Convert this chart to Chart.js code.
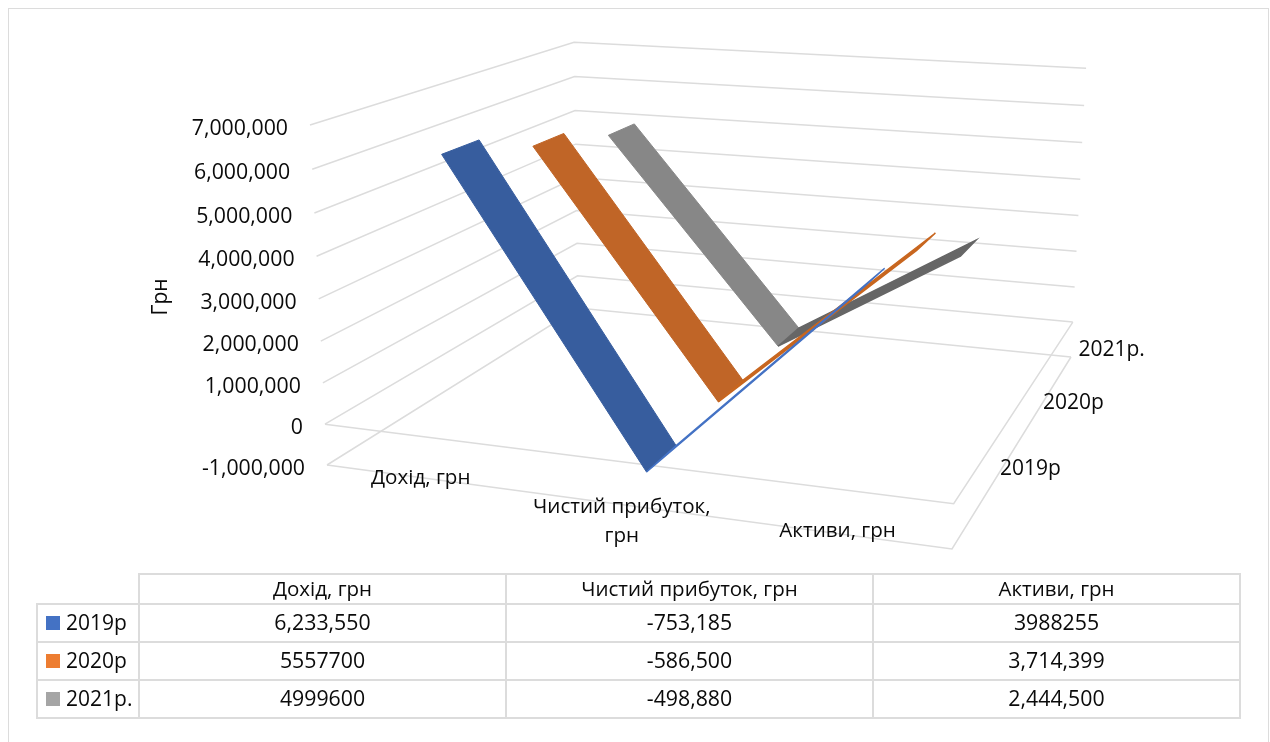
<!DOCTYPE html>
<html>
<head>
<meta charset="utf-8">
<title>Дохід, чистий прибуток, активи</title>
<script src="https://cdn.jsdelivr.net/npm/chart.js@4"></script>
<style>
html,body{margin:0;padding:0;background:#fff;overflow:hidden}
#frame{position:absolute;left:8px;top:8px;width:1259px;height:760px;border:1.5px solid #dcdcdc}
#plot{position:absolute;left:0;top:0}
#dataTable{position:absolute;left:36px;top:573px;width:1205px;height:146px;border-collapse:collapse;table-layout:fixed;
font-family:"Open Sans",sans-serif;font-size:21.3px;color:#0a0a0a}
#dataTable td{border:2px solid #dcdcdc;text-align:center;padding:0 0 2px 0;height:34px;line-height:1}
#dataTable tr:first-child td{height:26px;font-size:20.5px}
#dataTable td.blank{border:none;border-bottom:2px solid #dcdcdc}
#dataTable td.name{text-align:left;padding-left:8px;white-space:nowrap;font-size:21px}
.swatch{display:inline-block;width:14px;height:14px;margin-right:6px;vertical-align:0}
</style>
</head>
<body>
<div id="frame"></div>
<canvas id="plot" width="1270" height="742"></canvas>
<table id="dataTable"></table>

<script>
/* ==== data ==== */
const categories=["Дохід, грн","Чистий прибуток, грн","Активи, грн"]
const years=["2019р","2020р","2021р."]

const values2019=[6233550,-753185,3988255]
const values2020=[5557700,-586500,3714399]
const values2021=[4999600,-498880,2444500]

// table cells, written the way the sheet formats them
const cells2019=["6,233,550","-753,185","3988255"]
const cells2020=["5557700","-586,500","3,714,399"]
const cells2021=["4999600","-498,880","2,444,500"]

const valueTicks=[7000000,6000000,5000000,4000000,3000000,2000000,1000000,0,-1000000]

const legendColors=["#4472C4","#ED7D31","#A5A5A5"]
const faceColors=["#375D9E","#C06527","#878787"]
const edgeColors=["#4472C4","#C8661F","#666666"]

const valueMin=-1000000
const valueMax=7000000

/* ==== 3D box projection ==== */
// corners of the box: floor origin, floor along categories, floor along depth, top of the value axis
const O={x:327,y:465}
const X={x:952,y:549}
const Y={x:578,y:308}
const Z={x:310,y:125}
const wx=0.8927, wy=1.2937, wz=0.955

// a = along categories 0..1, d = along depth 0..1, v = value
function project(a,d,v){
const z=(v-valueMin)/(valueMax-valueMin)
const w=1+a*(wx-1)+d*(wy-1)+z*(wz-1)
return {
x:(O.x+a*(wx*X.x-O.x)+d*(wy*Y.x-O.x)+z*(wz*Z.x-O.x))/w,
y:(O.y+a*(wx*X.y-O.y)+d*(wy*Y.y-O.y)+z*(wz*Z.y-O.y))/w
}
}

const slotCenter=i=>(i+0.5)/3
const ribbonHalf=0.065

/* ==== datasets ==== */
const datasets=[]

function gridLine(points){
datasets.push({data:points,borderColor:"#dcdcdc",borderWidth:1.5,fill:false})
}

// walls: left side and back side at every tick
valueTicks.forEach(v=>{
gridLine([project(0,0,v),project(0,1,v),project(1,1,v)])
})

// floor outline at zero and at the axis minimum
;[0,valueMin].forEach(v=>{
gridLine([project(0,0,v),project(1,0,v),project(1,1,v)])
})

function ribbonSegment(from,to,d,a,b,color,stroke){
const front=d-ribbonHalf
const back=d+ribbonHalf
datasets.push({
data:[
project(from,front,a),project(to,front,b),
project(to,back,b),project(from,back,a),project(from,front,a)
],
backgroundColor:color,borderColor:color,borderWidth:stroke,fill:"shape"
})
}

// furthest series goes first so the nearer ones paint over it
const seriesValues=[values2019,values2020,values2021]
for(let s=2;s>=0;s--){
const d=slotCenter(s)
const vals=seriesValues[s]
ribbonSegment(slotCenter(0),slotCenter(1),d,vals[0],vals[1],faceColors[s],1)
ribbonSegment(slotCenter(1),slotCenter(2),d,vals[1],vals[2],edgeColors[s],1.5)
}

// Chart.js paints the highest order first
datasets.forEach((ds,i)=>{ds.order=datasets.length-i})

/* ==== axis text ==== */
const numberFont='21.3px "Open Sans", sans-serif'
const labelFont='20.6px "Open Sans", sans-serif'

const axisText={
id:"axisText",
afterDatasetsDraw(chart){
const c=chart.ctx
const sx=chart.scales.x
const sy=chart.scales.y
c.save()
c.font=numberFont
c.fillStyle="#0a0a0a"
c.textBaseline="middle"

// value axis
c.textAlign="right"
valueTicks.forEach(v=>{
const p=project(0,0,v)
c.fillText(v.toLocaleString("en-US"),sx.getPixelForValue(p.x-22),sy.getPixelForValue(p.y+4))
})

// categories along the front edge
c.font=labelFont
c.textAlign="center"
let p=project(slotCenter(0),0,valueMin)
c.fillText("Дохід, грн",sx.getPixelForValue(p.x-1),sy.getPixelForValue(p.y))
p=project(slotCenter(1),0,valueMin)
c.fillText("Чистий прибуток,",sx.getPixelForValue(p.x),sy.getPixelForValue(p.y+3))
c.fillText("грн",sx.getPixelForValue(p.x),sy.getPixelForValue(p.y+32))
p=project(slotCenter(2),0,valueMin)
c.fillText("Активи, грн",sx.getPixelForValue(p.x),sy.getPixelForValue(p.y-3))

// years along the right edge
c.font='21px "Open Sans", sans-serif'
c.textAlign="left"
years.forEach((name,i)=>{
const q=project(1,slotCenter(i),valueMin)
c.fillText(name,sx.getPixelForValue(q.x+23),sy.getPixelForValue(q.y-41.5+11*slotCenter(i)))
})

// axis title
c.translate(161,297)
c.rotate(-Math.PI/2)
c.textAlign="center"
c.fillText("Грн",0,0)
c.restore()
}
}

/* ==== chart ==== */
new Chart(document.getElementById("plot"),{
type:"scatter",
data:{datasets:datasets},
options:{
responsive:false,
animation:false,
showLine:true,
layout:{padding:0},
elements:{point:{radius:0},line:{tension:0}},
plugins:{legend:{display:false},tooltip:{enabled:false}},
scales:{
x:{type:"linear",display:false,min:0,max:1270},
y:{type:"linear",display:false,min:0,max:742,reverse:true}
}
},
plugins:[axisText]
})

/* ==== data table ==== */
const table=document.getElementById("dataTable")
const rows=[cells2019,cells2020,cells2021]

let html="<colgroup><col style='width:102px'><col><col><col></colgroup><tr><td class='blank'></td>"
categories.forEach(name=>{html+="<td>"+name+"</td>"})
html+="</tr>"
rows.forEach((row,i)=>{
html+="<tr><td class='name'><span class='swatch' style='background:"+legendColors[i]+"'></span>"+years[i]+"</td>"
row.forEach(cell=>{html+="<td>"+cell+"</td>"})
html+="</tr>"
})
table.innerHTML=html
</script>
</body>
</html>
